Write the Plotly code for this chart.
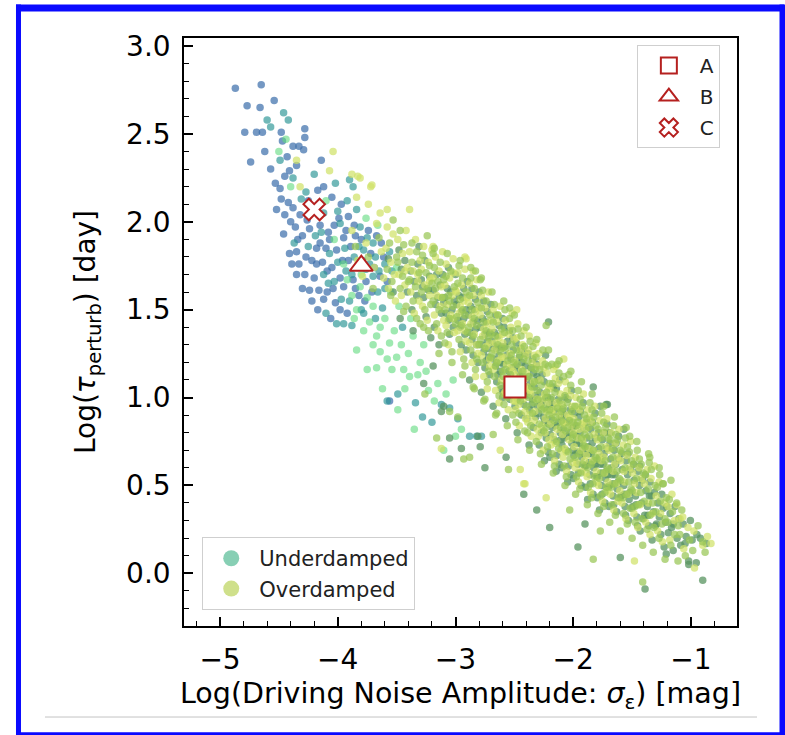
import plotly.graph_objects as go

# ---------------- data ----------------
# Overdamped points, split by colour shade (yellow / mid green / dark green)
od_light = [
    (-4.35,2.35),(-4.32,2.20),(-4.04,2.40),(-4.07,2.29),(-3.88,2.27),(-3.81,2.25),(-3.72,2.20),(-3.84,2.14),
    (-3.74,2.10),(-3.64,2.05),(-3.58,1.97),(-3.39,2.07),(-3.58,2.07),(-3.71,2.21),(-3.83,2.26),(-3.19,1.86),
    (-2.92,1.80),(-2.91,1.79),(-2.85,1.72),(-3.02,1.71),(-2.48,1.50),(-2.08,1.22),(-2.15,1.18),
    (-3.88,1.95),(-3.83,1.78),(-3.76,1.88),(-3.69,1.74),(-3.63,1.83),(-3.61,1.68),(-3.67,1.99),(-3.79,1.69),
    (-3.59,1.85),(-3.57,1.62),(-3.55,1.77),(-3.53,1.93),(-3.52,1.70),(-3.51,1.55),
    (-3.49,1.90),(-3.48,1.70),(-3.46,1.58),(-3.45,1.82),(-3.43,1.64),(-3.42,1.95),(-3.41,1.74),
    (-3.39,1.83),(-3.38,1.60),(-3.36,1.72),(-3.35,1.48),(-3.34,1.90),(-3.32,1.66),(-3.31,1.55),(-3.30,1.78),
    (-3.29,1.73),(-3.28,1.52),(-3.27,1.86),(-3.26,1.64),(-3.24,1.44),(-3.23,1.77),(-3.22,1.58),(-3.21,1.68),(-3.20,1.84),
    (-3.19,1.68),(-3.18,1.47),(-3.17,1.80),(-3.16,1.58),(-3.15,1.38),(-3.14,1.72),(-3.13,1.52),(-3.12,1.63),(-3.11,1.83),(-3.10,1.44),
    (-3.09,1.64),(-3.08,1.41),(-3.08,1.76),(-3.07,1.53),(-3.06,1.30),(-3.05,1.68),(-3.04,1.47),(-3.03,1.58),(-3.02,1.79),(-3.01,1.37),(-3.00,1.61),
    (-2.99,1.60),(-2.98,1.38),(-2.98,1.71),(-2.97,1.48),(-2.96,1.26),(-2.95,1.64),(-2.94,1.42),(-2.93,1.55),(-2.92,1.73),(-2.91,1.32),(-2.90,1.57),(-2.96,1.52),
    (-2.89,1.54),(-2.88,1.31),(-2.88,1.65),(-2.87,1.42),(-2.86,1.20),(-2.85,1.58),(-2.84,1.36),(-2.83,1.49),(-2.82,1.67),(-2.81,1.25),(-2.80,1.51),(-2.86,1.46),(-2.83,1.12),
    (-2.79,1.47),(-2.78,1.24),(-2.78,1.58),(-2.77,1.35),(-2.76,1.12),(-2.75,1.51),(-2.74,1.29),(-2.73,1.42),(-2.72,1.60),(-2.71,1.18),(-2.70,1.44),(-2.76,1.39),(-2.73,1.05),(-2.71,1.31),
    (-2.69,1.39),(-2.68,1.16),(-2.68,1.50),(-2.67,1.27),(-2.66,1.04),(-2.65,1.43),(-2.64,1.21),(-2.63,1.34),(-2.62,1.52),(-2.61,1.10),(-2.60,1.36),(-2.66,1.31),(-2.63,0.97),(-2.61,1.23),(-2.64,1.47),
    (-2.598,1.31),(-2.585,1.02),(-2.577,1.44),(-2.566,1.19),(-2.552,0.93),(-2.548,1.36),(-2.536,1.25),(-2.527,1.07),(-2.519,1.48),(-2.511,1.15),(-2.503,1.33),(-2.590,1.23),(-2.560,1.05),(-2.530,1.40),(-2.507,0.98),
    (-2.497,1.21),(-2.489,0.93),(-2.478,1.34),(-2.466,1.10),(-2.458,0.84),(-2.447,1.27),(-2.438,1.16),(-2.426,0.99),(-2.418,1.38),(-2.409,1.05),(-2.402,1.24),(-2.492,1.13),(-2.462,0.96),(-2.431,1.30),(-2.405,0.88),(-2.471,1.42),
    (-2.398,1.14),(-2.386,0.86),(-2.379,1.27),(-2.368,1.04),(-2.357,0.78),(-2.349,1.20),(-2.337,1.09),(-2.326,0.92),(-2.318,1.31),(-2.311,0.99),(-2.303,1.18),(-2.391,1.06),(-2.364,0.90),(-2.332,1.24),(-2.306,0.82),(-2.374,1.35),
    (-2.296,0.78),(-2.281,1.10),(-2.276,0.95),(-2.262,1.21),(-2.255,0.70),(-2.243,1.02),(-2.237,0.88),(-2.224,1.14),(-2.215,0.97),(-2.207,0.76),(-2.292,1.25),(-2.268,0.84),(-2.249,1.17),(-2.228,0.92),(-2.211,1.06),
    (-2.197,1.05),(-2.188,0.73),(-2.179,0.91),(-2.166,1.16),(-2.158,0.64),(-2.146,0.97),(-2.138,0.82),(-2.127,1.08),(-2.116,0.90),(-2.104,0.70),(-2.193,0.85),(-2.171,0.78),(-2.152,1.11),(-2.131,0.95),(-2.109,1.02),
    (-2.094,0.96),(-2.087,0.66),(-2.075,0.85),(-2.068,1.09),(-2.056,0.58),(-2.049,0.90),(-2.036,0.76),(-2.024,1.01),(-2.018,0.84),(-2.005,0.63),(-2.091,0.79),(-2.072,0.71),(-2.053,1.04),(-2.031,0.89),(-2.009,0.95),
    (-1.996,0.88),(-1.984,0.60),(-1.977,1.00),(-1.963,0.77),(-1.955,0.52),(-1.947,0.93),(-1.934,0.70),(-1.926,0.85),(-1.913,1.02),(-1.906,0.64),(-1.992,0.72),(-1.968,0.95),(-1.951,0.82),(-1.929,0.58),(-1.908,0.86),
    (-1.897,0.82),(-1.882,0.55),(-1.876,0.93),(-1.867,0.71),(-1.853,0.46),(-1.845,0.86),(-1.836,0.64),(-1.822,0.79),(-1.817,0.95),(-1.804,0.58),(-1.888,0.67),(-1.861,0.89),
    (-1.796,0.76),(-1.785,0.50),(-1.774,0.87),(-1.763,0.64),(-1.751,0.41),(-1.744,0.80),(-1.733,0.57),(-1.722,0.72),(-1.714,0.88),(-1.705,0.52),(-1.781,0.68),
    (-1.697,0.70),(-1.684,0.45),(-1.676,0.80),(-1.662,0.58),(-1.655,0.36),(-1.643,0.74),(-1.632,0.51),(-1.624,0.66),(-1.612,0.82),(-1.604,0.47),
    (-1.598,0.64),(-1.586,0.40),(-1.574,0.73),(-1.563,0.52),(-1.552,0.31),(-1.545,0.67),(-1.534,0.45),(-1.521,0.60),(-1.513,0.75),
    (-1.497,0.57),(-1.485,0.34),(-1.473,0.66),(-1.462,0.46),(-1.451,0.26),(-1.441,0.60),(-1.432,0.39),(-1.421,0.54),
    (-1.396,0.51),(-1.384,0.29),(-1.372,0.59),(-1.361,0.40),(-1.348,0.22),(-1.339,0.54),(-1.327,0.34),
    (-1.296,0.44),(-1.283,0.24),(-1.271,0.52),(-1.258,0.34),(-1.243,0.18),(-1.224,0.40),
    (-1.195,0.38),(-1.180,0.19),(-1.162,0.45),(-1.141,0.30),(-1.092,0.31),(-1.061,0.14),(-1.025,0.26),
    (-0.975,0.24),(-0.90,0.16),(-0.86,0.21),
    (-1.31,0.61),(-1.12,0.39),(-1.07,0.32),(-0.83,0.17),(-0.97,0.03),(-1.48,0.07),(-2.23,0.43),(-2.41,0.51),
    (-3.12,0.71),(-2.45,0.59),(-2.42,0.51),(-2.62,0.70),
    (-2.53,1.17),(-2.44,1.09),(-2.36,1.02),(-2.27,0.99),(-2.18,0.93),(-2.09,0.86),(-2.00,0.80),(-1.92,0.76),
    (-1.83,0.70),(-1.74,0.66),(-1.65,0.62),(-1.57,0.58),(-1.48,0.51),(-2.58,1.03),(-2.49,0.98),(-2.41,0.92),
    (-2.33,0.87),(-2.24,0.80),(-2.15,0.74),(-2.06,0.69),(-1.97,0.63),(-1.89,0.57),(-1.80,0.52),(-1.71,0.47),
    (-1.62,0.41),(-2.71,1.22),(-2.82,1.30),(-2.92,1.38),(-3.02,1.45),(-3.12,1.57),(-3.22,1.66),(-3.32,1.70),(-3.43,1.72),
]
od_mid = [
    (-3.19,1.82),(-2.54,1.51),(-2.79,1.67),(-2.83,1.72),(-3.53,2.01),(-2.23,1.41),
    (-3.85,1.86),(-3.74,1.80),(-3.65,1.91),(-3.70,1.62),
    (-3.58,1.73),(-3.56,1.88),(-3.54,1.66),(-3.50,1.80),
    (-3.49,1.77),(-3.47,1.62),(-3.45,1.69),(-3.44,1.87),(-3.42,1.52),(-3.40,1.66),
    (-3.39,1.67),(-3.37,1.77),(-3.36,1.55),(-3.34,1.63),(-3.33,1.83),(-3.31,1.71),(-3.30,1.42),
    (-3.29,1.60),(-3.28,1.81),(-3.26,1.50),(-3.25,1.71),(-3.24,1.62),(-3.23,1.38),(-3.22,1.75),(-3.21,1.53),(-3.20,1.65),
    (-3.19,1.55),(-3.18,1.74),(-3.17,1.62),(-3.16,1.42),(-3.15,1.66),(-3.14,1.50),(-3.13,1.77),(-3.12,1.35),(-3.11,1.57),(-3.10,1.67),
    (-3.09,1.50),(-3.08,1.69),(-3.07,1.37),(-3.06,1.58),(-3.05,1.45),(-3.04,1.72),(-3.03,1.26),(-3.02,1.52),(-3.01,1.63),(-3.00,1.42),(-3.05,1.55),(-3.09,1.31),
    (-2.99,1.46),(-2.98,1.65),(-2.97,1.33),(-2.96,1.56),(-2.95,1.41),(-2.94,1.68),(-2.93,1.22),(-2.92,1.47),(-2.91,1.60),(-2.90,1.37),(-2.94,1.50),(-2.97,1.75),(-2.92,1.18),
    (-2.89,1.40),(-2.88,1.58),(-2.87,1.27),(-2.86,1.50),(-2.85,1.35),(-2.84,1.62),(-2.83,1.16),(-2.82,1.41),(-2.81,1.54),(-2.80,1.30),(-2.84,1.45),(-2.87,1.68),(-2.82,1.22),(-2.85,1.06),
    (-2.79,1.33),(-2.78,1.51),(-2.77,1.20),(-2.76,1.43),(-2.75,1.28),(-2.74,1.55),(-2.73,1.09),(-2.72,1.34),(-2.71,1.47),(-2.70,1.23),(-2.74,1.38),(-2.77,1.61),(-2.72,1.15),(-2.75,0.99),(-2.70,1.36),
    (-2.69,1.25),(-2.68,1.43),(-2.67,1.12),(-2.66,1.35),(-2.65,1.20),(-2.64,1.47),(-2.63,1.01),(-2.62,1.26),(-2.61,1.39),(-2.60,1.15),(-2.64,1.30),(-2.67,1.53),(-2.62,1.07),(-2.65,0.91),(-2.60,1.28),(-2.66,1.18),
    (-2.595,1.12),(-2.583,1.37),(-2.571,1.28),(-2.562,1.00),(-2.555,1.21),(-2.541,1.45),(-2.533,1.13),(-2.522,1.30),(-2.514,0.90),(-2.505,1.20),(-2.588,0.96),(-2.575,1.16),(-2.545,1.08),(-2.525,1.24),(-2.515,1.38),(-2.58,1.50),
    (-2.494,1.02),(-2.483,1.27),(-2.474,1.19),(-2.461,0.91),(-2.452,1.12),(-2.443,1.35),(-2.434,1.03),(-2.421,1.22),(-2.412,0.81),(-2.404,1.11),(-2.487,0.86),(-2.476,1.06),(-2.449,0.98),(-2.428,1.15),(-2.415,1.29),(-2.468,1.39),(-2.455,1.24),
    (-2.395,0.95),(-2.384,1.21),(-2.372,1.12),(-2.361,0.84),(-2.353,1.06),(-2.342,1.29),(-2.335,0.97),(-2.323,1.16),(-2.314,0.75),(-2.305,1.04),(-2.388,0.80),(-2.377,1.00),(-2.347,0.91),(-2.328,1.09),(-2.316,1.23),(-2.366,1.32),(-2.356,1.17),
    (-2.299,0.99),(-2.287,0.85),(-2.272,1.07),(-2.266,0.93),(-2.251,0.81),(-2.239,1.19),(-2.233,1.00),(-2.219,0.72),(-2.205,0.90),(-2.284,1.16),(-2.258,1.27),(-2.246,0.94),(-2.226,1.03),(-2.212,1.18),(-2.279,0.68),(-2.231,0.83),(-2.202,1.08),
    (-2.199,0.93),(-2.185,1.00),(-2.176,0.68),(-2.163,0.87),(-2.155,1.03),(-2.141,0.75),(-2.134,0.94),(-2.121,1.14),(-2.107,0.83),(-2.182,1.19),(-2.160,0.61),(-2.149,0.89),(-2.124,0.71),(-2.113,0.98),(-2.174,1.08),(-2.136,1.19),(-2.102,0.92),
    (-2.098,0.87),(-2.083,0.94),(-2.077,0.61),(-2.064,0.81),(-2.052,0.97),(-2.042,0.69),(-2.033,0.87),(-2.021,1.07),(-2.007,0.77),(-2.081,1.12),(-2.059,0.55),(-2.046,0.83),(-2.027,0.65),(-2.013,0.92),(-2.071,1.01),(-2.038,1.13),(-2.002,0.86),
    (-1.999,0.79),(-1.986,0.95),(-1.973,0.55),(-1.962,0.86),(-1.948,0.68),(-1.941,0.99),(-1.931,0.77),(-1.919,0.62),(-1.904,0.90),(-1.981,0.66),(-1.958,1.04),(-1.944,0.48),(-1.924,0.95),(-1.911,0.73),(-1.970,0.84),(-1.936,0.57),(-1.901,0.79),
    (-1.899,0.72),(-1.887,0.88),(-1.872,0.49),(-1.863,0.78),(-1.849,0.62),(-1.841,0.93),(-1.830,0.70),(-1.818,0.55),(-1.806,0.84),(-1.879,0.60),(-1.857,0.97),(-1.843,0.43),(-1.825,0.89),(-1.811,0.66),(-1.869,0.83),(-1.833,0.51),
    (-1.798,0.65),(-1.787,0.82),(-1.771,0.44),(-1.765,0.72),(-1.748,0.57),(-1.741,0.86),(-1.729,0.64),(-1.717,0.49),(-1.703,0.77),(-1.778,0.54),(-1.758,0.91),(-1.742,0.38),(-1.724,0.83),(-1.711,0.60),(-1.767,0.77),(-1.731,0.46),
    (-1.699,0.59),(-1.686,0.76),(-1.673,0.39),(-1.664,0.66),(-1.649,0.51),(-1.638,0.79),(-1.628,0.58),(-1.617,0.43),(-1.603,0.70),(-1.678,0.49),(-1.657,0.84),(-1.642,0.33),(-1.623,0.76),(-1.609,0.54),(-1.668,0.71),
    (-1.597,0.53),(-1.585,0.69),(-1.572,0.34),(-1.561,0.60),(-1.548,0.45),(-1.539,0.72),(-1.528,0.52),(-1.516,0.37),(-1.504,0.64),(-1.577,0.43),(-1.557,0.77),(-1.541,0.28),(-1.523,0.69),(-1.509,0.48),
    (-1.499,0.47),(-1.486,0.62),(-1.474,0.29),(-1.463,0.54),(-1.447,0.39),(-1.438,0.65),(-1.427,0.46),(-1.416,0.31),(-1.404,0.57),(-1.476,0.38),(-1.456,0.70),(-1.423,0.62),
    (-1.398,0.41),(-1.386,0.56),(-1.373,0.25),(-1.362,0.48),(-1.347,0.33),(-1.337,0.59),(-1.326,0.40),(-1.315,0.26),(-1.304,0.50),(-1.355,0.63),
    (-1.298,0.35),(-1.285,0.49),(-1.272,0.20),(-1.261,0.41),(-1.246,0.28),(-1.235,0.51),(-1.221,0.31),(-1.208,0.43),(-1.266,0.56),
    (-1.197,0.29),(-1.184,0.42),(-1.171,0.16),(-1.157,0.35),(-1.139,0.22),(-1.122,0.40),(-1.108,0.27),
    (-1.095,0.22),(-1.078,0.36),(-1.048,0.10),(-1.012,0.19),(-0.985,0.13),(-0.94,0.27),(-0.88,0.12),
    (-1.52,0.78),(-1.35,0.66),(-1.24,0.51),(-0.90,0.18),(-1.41,-0.05),(-1.83,0.08),(-1.77,0.24),(-2.03,0.36),(-1.11,0.07),
    (-3.26,1.02),(-3.05,0.92),(-2.98,0.89),(-3.16,0.77),(-2.93,0.65),(-2.68,0.79),(-2.55,0.59),(-2.88,0.66),
    (-3.55,1.58),(-3.47,1.95),(-3.44,1.49),(-3.37,1.88),(-3.33,1.45),(-3.27,1.40),(-3.24,1.92),(-3.18,1.85),
    (-3.14,1.25),(-3.07,1.82),(-3.03,1.20),(-2.96,1.78),(-2.94,1.13),(-2.87,1.74),(-2.84,1.05),(-2.78,1.68),
    (-2.76,0.98),(-2.69,1.60),(-2.66,0.90),(-2.59,1.55),(-2.56,0.84),(-2.50,1.47),(-2.47,0.76),(-2.40,1.40),
    (-2.37,0.70),(-2.31,1.33),(-2.27,0.62),(-2.21,1.27),(-2.17,0.57),(-2.12,1.21),(-2.07,0.50),(-2.02,1.15),
    (-1.98,0.45),(-1.93,1.09),(-1.88,0.39),(-1.84,1.02),(-1.79,0.34),(-1.74,0.95),(-1.69,0.29),(-1.65,0.89),
    (-1.60,0.24),(-1.55,0.83),(-1.50,0.20),(-1.46,0.75),(-1.41,0.16),(-1.36,0.68),(-1.32,0.12),(-1.27,0.60),
    (-1.22,0.08),(-1.17,0.53),
]
od_dark = [
    (-2.21,1.43),(-1.83,1.06),
    (-3.57,1.79),(-3.53,1.60),
    (-3.48,1.84),(-3.46,1.73),(-3.43,1.78),(-3.41,1.60),(-3.47,1.45),
    (-3.38,1.72),(-3.37,1.50),(-3.35,1.66),(-3.33,1.58),(-3.32,1.76),(-3.31,1.86),(-3.36,1.38),
    (-3.29,1.67),(-3.27,1.57),(-3.26,1.78),(-3.25,1.46),(-3.23,1.61),(-3.22,1.69),(-3.21,1.34),(-3.28,1.63),
    (-3.19,1.61),(-3.18,1.40),(-3.17,1.53),(-3.16,1.70),(-3.15,1.57),(-3.14,1.30),(-3.13,1.64),(-3.12,1.48),(-3.11,1.70),(-3.10,1.54),
    (-3.09,1.57),(-3.08,1.48),(-3.07,1.62),(-3.06,1.44),(-3.05,1.36),(-3.04,1.60),(-3.03,1.50),(-3.02,1.40),(-3.01,1.55),(-3.00,1.70),(-3.06,1.74),
    (-2.99,1.53),(-2.98,1.44),(-2.97,1.58),(-2.96,1.40),(-2.95,1.30),(-2.94,1.57),(-2.93,1.45),(-2.92,1.36),(-2.91,1.50),(-2.90,1.66),(-2.95,1.49),(-2.93,1.62),(-2.91,1.27),
    (-2.89,1.47),(-2.88,1.37),(-2.87,1.52),(-2.86,1.33),(-2.85,1.24),(-2.84,1.50),(-2.83,1.39),(-2.82,1.30),(-2.81,1.44),(-2.80,1.60),(-2.85,1.43),(-2.83,1.56),(-2.81,1.20),(-2.88,1.10),(-2.86,1.62),
    (-2.79,1.40),(-2.78,1.30),(-2.77,1.45),(-2.76,1.26),(-2.75,1.17),(-2.74,1.43),(-2.73,1.32),(-2.72,1.23),(-2.71,1.37),(-2.70,1.53),(-2.75,1.36),(-2.73,1.49),(-2.71,1.13),(-2.78,1.03),(-2.76,1.55),(-2.72,1.28),(-2.74,1.21),
    (-2.69,1.32),(-2.68,1.22),(-2.67,1.37),(-2.66,1.18),(-2.65,1.09),(-2.64,1.35),(-2.63,1.24),(-2.62,1.15),(-2.61,1.29),(-2.60,1.45),(-2.65,1.28),(-2.63,1.41),(-2.61,1.05),(-2.68,0.95),(-2.66,1.47),(-2.62,1.20),(-2.64,1.13),(-2.67,1.29),(-2.60,1.00),
    (-2.593,1.19),(-2.581,1.29),(-2.569,1.08),(-2.557,1.32),(-2.546,1.15),(-2.538,0.99),(-2.529,1.22),(-2.517,1.05),(-2.509,1.27),(-2.501,1.10),(-2.586,1.40),(-2.564,1.24),(-2.543,1.38),(-2.521,1.17),(-2.513,1.34),(-2.596,1.03),(-2.573,0.88),(-2.551,1.11),
    (-2.499,1.09),(-2.486,1.18),(-2.472,0.99),(-2.459,1.23),(-2.448,1.06),(-2.440,0.90),(-2.429,1.12),(-2.417,0.96),(-2.407,1.18),(-2.401,1.01),(-2.484,1.31),(-2.463,1.15),(-2.445,1.28),(-2.423,1.07),(-2.413,1.25),(-2.495,0.95),(-2.476,0.80),(-2.453,1.02),(-2.436,1.20),
    (-2.397,1.02),(-2.383,1.12),(-2.371,0.93),(-2.359,1.17),(-2.346,0.99),(-2.339,0.83),(-2.330,1.06),(-2.319,0.89),(-2.308,1.12),(-2.302,0.95),(-2.385,1.25),(-2.363,1.08),(-2.344,1.22),(-2.324,1.01),(-2.312,1.19),(-2.393,0.88),(-2.375,0.73),(-2.352,0.96),(-2.337,1.14),
    (-2.294,0.91),(-2.283,1.03),(-2.271,0.80),(-2.259,0.98),(-2.247,1.09),(-2.241,0.87),(-2.229,0.77),(-2.218,1.00),(-2.209,0.85),(-2.201,0.96),(-2.289,0.73),(-2.264,1.13),(-2.253,0.89),(-2.235,1.24),(-2.222,0.93),(-2.214,0.69),(-2.298,1.10),(-2.274,0.96),(-2.244,0.64),
    (-2.195,0.79),(-2.186,0.88),(-2.173,0.96),(-2.161,0.76),(-2.150,0.84),(-2.143,1.05),(-2.129,0.86),(-2.119,0.62),(-2.111,0.80),(-2.101,0.89),(-2.191,0.99),(-2.168,1.06),(-2.156,0.92),(-2.139,0.67),(-2.125,0.99),(-2.115,1.10),(-2.198,0.66),(-2.177,0.83),(-2.145,0.58),(-2.105,0.76),
    (-2.096,0.73),(-2.085,0.82),(-2.073,0.90),(-2.062,0.70),(-2.051,0.78),(-2.044,0.99),(-2.028,0.80),(-2.019,0.56),(-2.012,0.74),(-2.001,0.83),(-2.089,0.93),(-2.066,1.00),(-2.057,0.86),(-2.039,0.61),(-2.025,0.93),(-2.014,1.04),(-2.097,0.60),(-2.078,0.77),(-2.047,0.52),(-2.004,0.70),
    (-1.995,0.67),(-1.983,0.84),(-1.971,0.74),(-1.960,0.62),(-1.952,0.89),(-1.942,0.80),(-1.932,0.50),(-1.921,0.71),(-1.912,0.83),(-1.902,0.61),(-1.988,0.91),(-1.966,0.69),(-1.957,0.57),(-1.938,0.92),(-1.927,0.66),(-1.915,0.97),(-1.997,0.54),(-1.976,0.78),(-1.946,0.74),(-1.905,0.68),
    (-1.894,0.61),(-1.884,0.77),(-1.871,0.68),(-1.859,0.56),(-1.851,0.82),(-1.839,0.74),(-1.831,0.45),(-1.820,0.64),(-1.813,0.77),(-1.801,0.55),(-1.886,0.86),(-1.865,0.63),(-1.855,0.51),(-1.837,0.86),(-1.826,0.60),(-1.814,0.91),(-1.896,0.49),(-1.874,0.72),(-1.847,0.68),(-1.808,0.62),(-1.878,0.42),
    (-1.793,0.55),(-1.783,0.71),(-1.772,0.62),(-1.760,0.50),(-1.752,0.76),(-1.738,0.68),(-1.730,0.40),(-1.719,0.58),(-1.712,0.71),(-1.702,0.49),(-1.786,0.80),(-1.766,0.57),(-1.755,0.45),(-1.736,0.80),(-1.726,0.54),(-1.713,0.85),(-1.795,0.43),(-1.775,0.66),(-1.746,0.62),(-1.707,0.56),(-1.777,0.36),
    (-1.694,0.50),(-1.682,0.65),(-1.671,0.56),(-1.661,0.44),(-1.651,0.70),(-1.639,0.62),(-1.631,0.35),(-1.619,0.52),(-1.611,0.65),(-1.601,0.43),(-1.688,0.74),(-1.666,0.51),(-1.656,0.39),(-1.636,0.74),(-1.626,0.48),(-1.614,0.78),(-1.696,0.38),(-1.675,0.60),(-1.646,0.56),
    (-1.594,0.44),(-1.583,0.59),(-1.571,0.50),(-1.560,0.38),(-1.550,0.64),(-1.538,0.56),(-1.531,0.30),(-1.519,0.46),(-1.511,0.59),(-1.502,0.37),(-1.588,0.68),(-1.566,0.45),(-1.555,0.33),(-1.536,0.68),(-1.525,0.42),
    (-1.494,0.38),(-1.482,0.53),(-1.471,0.44),(-1.459,0.32),(-1.449,0.58),(-1.437,0.50),(-1.431,0.24),(-1.419,0.40),(-1.411,0.53),(-1.402,0.31),(-1.488,0.62),(-1.466,0.39),(-1.454,0.27),(-1.435,0.61),
    (-1.393,0.33),(-1.382,0.47),(-1.370,0.38),(-1.359,0.27),(-1.349,0.52),(-1.337,0.44),(-1.330,0.19),(-1.318,0.35),(-1.310,0.46),(-1.302,0.27),(-1.388,0.56),(-1.366,0.33),(-1.353,0.44),
    (-1.293,0.28),(-1.281,0.40),(-1.269,0.32),(-1.256,0.22),(-1.248,0.45),(-1.236,0.37),(-1.228,0.15),(-1.215,0.29),(-1.205,0.38),
    (-1.192,0.23),(-1.177,0.34),(-1.165,0.26),(-1.151,0.13),(-1.136,0.38),(-1.118,0.20),(-1.104,0.31),
    (-1.087,0.16),(-1.066,0.28),(-1.041,0.21),(-1.019,0.05),(-1.005,0.30),(-0.99,0.19),(-0.955,0.06),(-0.92,0.20),(-0.87,0.17),
    (-1.77,0.95),(-1.71,0.96),(-1.57,0.82),(-0.95,0.22),(-1.05,0.17),(-1.02,0.07),(-0.90,-0.04),(-1.39,-0.09),(-1.60,0.09),
    (-1.96,0.15),(-1.90,0.28),(-2.20,0.26),(-2.31,0.36),(-2.42,0.45),(-1.15,0.28),(-1.21,0.11),(-1.69,0.80),(-1.72,0.96),
    (-3.19,1.18),(-3.27,1.08),(-3.10,0.95),(-3.12,0.92),(-3.05,0.77),(-3.05,0.65),(-2.95,0.71),(-2.81,0.78),(-2.75,0.60),
    (-2.57,0.66),(-2.79,0.72),
]
# Underdamped points, split by colour shade (blue / teal / bright green)
ud_blue = [
    (-4.87,2.76),(-4.65,2.78),(-4.77,2.66),(-4.66,2.65),(-4.54,2.69),(-4.79,2.51),(-4.69,2.51),(-4.64,2.51),
    (-4.74,2.34),(-4.48,2.51),(-4.47,2.46),(-4.28,2.53),(-4.28,2.48),(-4.33,2.43),(-4.29,2.41),(-4.14,2.35),
    (-4.43,2.37),(-4.41,2.29),(-4.45,2.26),(-4.35,2.32),(-4.53,2.22),(-4.49,2.19),(-4.48,2.13),(-4.42,2.11),
    (-4.38,2.08),(-4.32,2.04),(-4.05,2.14),(-4.17,2.18),(-4.26,2.01),(-4.24,1.96),(-4.15,1.88),(-4.08,1.94),
    (-3.95,1.91),(-4.41,1.82),(-4.35,1.83),(-4.33,1.76),(-4.35,1.70),(-4.22,1.78),(-4.09,1.72),(-4.01,1.84),
    (-4.24,1.61),(-4.16,1.61),(-4.22,1.55),(-4.09,1.60),(-4.04,1.62),(-4.02,1.54),(-4.17,1.50),(-3.64,1.69),
    (-3.63,1.88),(-3.87,1.67),(-3.95,1.63),(-3.99,2.02),(-3.93,1.95),(-3.96,1.78),(-3.89,1.86),(-3.85,1.92),
    (-3.83,1.74),(-3.79,1.78),(-3.76,1.66),(-3.72,1.82),(-3.69,1.74),(-3.67,1.92),(-3.61,1.80),(-3.58,1.66),
    (-3.92,1.48),(-3.98,1.50),(-4.06,1.45),(-3.82,1.58),(-3.77,1.55),(-4.12,1.56),(-4.30,1.62),(-4.28,1.70),
    (-4.18,1.76),(-4.10,1.85),(-4.15,1.98),(-4.30,1.92),(-4.36,1.97),(-4.40,2.00),(-4.45,2.04),(-3.56,0.98),
    (-4.25,2.12),(-4.12,2.20),(-4.03,1.98),(-3.97,2.10),(-3.91,2.03),(-3.86,1.98),(-3.80,1.90),(-3.74,1.95),
    (-4.18,1.85),(-4.07,1.90),(-4.13,1.77),(-4.05,1.74),(-3.98,1.68),(-3.91,1.78),(-3.85,1.62),(-3.71,1.60),
    (-4.20,1.68),(-4.27,1.80),(-4.34,1.90),(-4.39,1.76),(-4.46,1.93),(-4.52,2.07),(-4.57,2.30),(-4.62,2.40),(-4.38,2.43),
]
ud_teal = [
    (-4.60,2.58),(-4.57,2.54),(-4.46,2.62),(-4.42,2.58),(-4.49,2.35),(-4.38,2.25),(-4.20,2.27),(-4.27,2.17),
    (-4.12,2.05),(-4.00,2.06),(-3.90,2.24),(-3.87,2.20),(-3.92,2.12),(-3.84,2.07),(-3.81,1.97),(-3.75,1.91),
    (-3.70,1.69),(-3.54,1.72),(-4.19,1.92),(-4.07,1.82),(-4.00,1.77),(-3.93,1.72),(-3.98,1.99),(-4.12,1.70),
    (-4.03,1.66),(-3.90,1.55),(-3.86,1.80),(-3.78,1.84),(-3.73,1.76),(-3.68,1.80),(-3.60,1.76),(-3.56,1.83),
    (-4.01,1.42),(-3.88,1.41),(-3.58,0.98),(-3.49,1.02),(-3.34,0.97),(-3.28,0.89),(-3.20,0.86),(-3.12,0.96),
    (-3.05,0.94),(-2.98,0.88),(-2.88,0.78),(-2.82,0.78),(-2.78,0.78),(-3.97,1.56),(-3.80,1.50),(-3.66,1.60),
    (-4.10,1.48),(-3.62,1.51),(-3.45,1.40),(-4.37,1.88),(-4.25,1.86),
    (-4.02,2.22),(-3.94,1.85),(-3.88,1.70),(-3.82,1.86),(-3.76,1.73),(-3.70,1.88),(-3.65,1.72),(-3.60,1.62),
    (-4.08,1.65),(-4.14,1.94),(-4.31,2.13),(-3.78,1.48),(-3.68,1.45),(-3.95,1.42),
]
ud_green = [
    (-3.92,1.67),(-3.81,1.63),(-3.75,1.57),(-3.70,1.52),(-3.84,1.50),(-3.73,1.43),(-3.78,1.38),(-3.67,1.35),
    (-3.64,1.40),(-3.56,1.31),(-3.84,1.27),(-3.64,1.26),(-3.50,1.23),(-3.67,1.17),(-3.75,1.16),(-3.54,1.16),
    (-3.44,1.16),(-3.39,1.12),(-3.49,0.93),(-3.32,1.13),(-3.23,1.04),(-3.50,1.74),(-3.60,1.45),(-3.52,1.38),
    (-3.46,1.30),(-3.40,1.25),(-3.36,1.35),(-3.30,1.20),(-3.43,1.05),(-3.27,1.30),(-3.58,1.22),(-3.62,1.05),
    (-3.70,1.30),(-3.88,1.58),(-3.80,1.70),(-3.95,1.76),(-4.03,1.90),(-4.44,2.47),(-4.50,2.40),(-4.40,2.20),
    (-4.10,2.12),(-3.76,2.02),(-3.66,1.98),(-3.55,1.60),(-3.48,1.52),(-3.38,1.45),(-3.25,1.15),(-3.15,1.08),
    (-3.08,1.02),(-3.02,1.10),(-3.18,0.98),(-3.35,0.82),(-3.00,0.78),(-2.95,0.82),(-3.10,0.70),(-3.86,1.45),
]
# Highlighted objects
obj_names = ["A", "B", "C"]
obj_x = [-2.495, -3.80, -4.20]
obj_y = [1.06, 1.75, 2.07]
obj_symbols = ["square", "triangle-up", "x"]
obj_sizes = [21, 20, 19]

# Axis ticks
x_tickvals = [-5, -4, -3, -2, -1]
x_ticktext = ["\u22125", "\u22124", "\u22123", "\u22122", "\u22121"]
y_tickvals = [0.0, 0.5, 1.0, 1.5, 2.0, 2.5, 3.0]
y_ticktext = ["0.0", "0.5", "1.0", "1.5", "2.0", "2.5", "3.0"]

# ---------------- figure ----------------
FONT = "DejaVu Sans"
RED = "#b5201f"

fig = go.Figure()

def add_cloud(pts, color):
    fig.add_trace(go.Scatter(
        x=[p[0] for p in pts], y=[p[1] for p in pts], mode="markers",
        marker=dict(size=7.5, color=color, line=dict(width=0)),
        showlegend=False, hoverinfo="skip"))

add_cloud(ud_blue, "rgba(62,112,172,0.72)")
add_cloud(ud_teal, "rgba(45,150,150,0.68)")
add_cloud(ud_green, "rgba(95,218,125,0.60)")
add_cloud(od_dark, "rgba(88,148,96,0.75)")
add_cloud(od_light, "rgba(208,226,104,0.72)")
add_cloud(od_mid, "rgba(152,198,84,0.72)")

# legend-only entries for the two classes
fig.add_trace(go.Scatter(x=[None], y=[None], mode="markers", name="Underdamped",
                         marker=dict(size=16, color="#87cfb4"), legend="legend"))
fig.add_trace(go.Scatter(x=[None], y=[None], mode="markers", name="Overdamped",
                         marker=dict(size=16, color="#cfe08b"), legend="legend"))

for n, xv, yv, s, sz in zip(obj_names, obj_x, obj_y, obj_symbols, obj_sizes):
    fig.add_trace(go.Scatter(
        x=[xv], y=[yv], mode="markers", name=n, legend="legend2", legendgroup=n,
        marker=dict(symbol=s, size=sz, color="white", line=dict(color=RED, width=2))))

axis_common = dict(
    showgrid=False, zeroline=False, showline=True, linecolor="black", linewidth=1.5,
    mirror=True, ticks="inside", ticklen=9, tickwidth=1.5, tickcolor="black",
    tickfont=dict(family=FONT, size=28, color="black"),
)

fig.update_xaxes(
    range=[-5.306, -0.609], tickmode="array", tickvals=x_tickvals, ticktext=x_ticktext,
    minor=dict(dtick=0.2, tick0=0, ticks="inside", ticklen=5, tickwidth=1.2, tickcolor="black"),
    title=dict(text="Log(Driving Noise Amplitude: <i>σ</i><sub>ε</sub>) [mag]",
               font=dict(family=FONT, size=28.5, color="black"), standoff=8),
    ticklabelstandoff=8,
    **axis_common)
fig.update_yaxes(
    range=[-0.30, 3.046], tickmode="array", tickvals=y_tickvals, ticktext=y_ticktext,
    minor=dict(dtick=0.1, tick0=0, ticks="inside", ticklen=5, tickwidth=1.2, tickcolor="black"),
    title=dict(text="Log(<i>τ</i><sub>perturb</sub>) [day]",
               font=dict(family=FONT, size=28, color="black"), standoff=22),
    ticklabelstandoff=6,
    **axis_common)

fig.update_layout(
    width=785, height=735,
    margin=dict(l=184, r=48, t=38, b=109),
    paper_bgcolor="white", plot_bgcolor="white",
    font=dict(family=FONT, color="black"),
    legend=dict(x=0.033, y=0.027, xanchor="left", yanchor="bottom",
                bgcolor="rgba(255,255,255,0.85)", bordercolor="#cfcfcf", borderwidth=1,
                font=dict(family=FONT, size=21, color="#222"), itemsizing="trace",
                itemwidth=46),
    legend2=dict(x=0.969, y=0.988, xanchor="right", yanchor="top",
                 bgcolor="rgba(255,255,255,0.85)", bordercolor="#cfcfcf", borderwidth=1,
                 font=dict(family=FONT, size=20, color="#222"), itemsizing="trace",
                 itemwidth=52, tracegroupgap=2),
    shapes=[
        # thin grey separator line under the axis title
        dict(type="line", xref="paper", yref="paper", x0=-0.2514, x1=1.0362, y0=-0.1548, y1=-0.1548,
             line=dict(color="#c4c4c4", width=1)),
        # blue frame around the picture
        dict(type="line", xref="paper", yref="paper", x0=-0.3038, x1=1.0850, y0=1.0510, y1=1.0510,
             line=dict(color="#0a0aff", width=7)),
        dict(type="line", xref="paper", yref="paper", x0=-0.2993, x1=-0.2993, y0=1.0570, y1=-0.1860,
             line=dict(color="#0a0aff", width=5)),
        dict(type="line", xref="paper", yref="paper", x0=1.0823, x1=1.0823, y0=1.0570, y1=-0.1860,
             line=dict(color="#0a0aff", width=6)),
        dict(type="line", xref="paper", yref="paper", x0=-0.3038, x1=1.0850, y0=-0.1850, y1=-0.1850,
             line=dict(color="#0a0aff", width=5)),
    ],
)

fig.write_html("out.html")
